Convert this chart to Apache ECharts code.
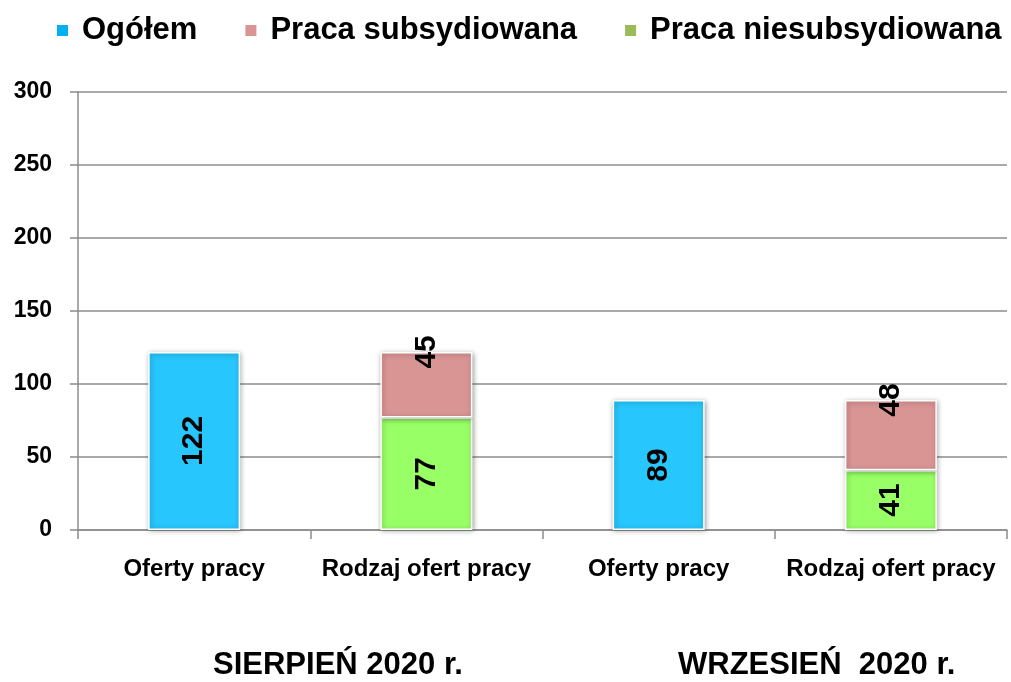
<!DOCTYPE html>
<html>
<head>
<meta charset="utf-8">
<script src="https://cdn.jsdelivr.net/npm/echarts@6/dist/echarts.min.js"></script>
<style>
  html, body { margin: 0; padding: 0; background: #fff; }
  #chart { width: 1011px; height: 682px; }
</style>
</head>
<body>
<div id="chart"></div>
<script>
// kategorie osi X
const categories = ["Oferty pracy", "Rodzaj ofert pracy", "Oferty pracy", "Rodzaj ofert pracy"];
// miesiące pod osią
const months = ["SIERPIEŃ 2020 r.", "WRZESIEŃ  2020 r."];
// wartości serii
const ogolem = [122, "-", 89, "-"];
const niesubsydiowana = ["-", 77, "-", 41];
const subsydiowana = ["-", 45, "-", 48];

const bodyFont = "'Liberation Sans', Arial, sans-serif";

const myChart = echarts.init(document.getElementById("chart"));

// wspólny styl słupka
function barItem(color) {
  return {
    color: color,
    borderColor: "#fff",
    borderWidth: 1.5,
    shadowBlur: 5,
    shadowColor: "rgba(0,0,0,0.35)",
    shadowOffsetX: 1,
    shadowOffsetY: 1,
  };
}

const valueLabel = {
  show: true,
  rotate: 90,
  color: "#000",
  fontFamily: bodyFont,
  fontWeight: "bold",
  fontSize: 30,
};

const option = {
  animation: false,
  backgroundColor: "#fff",
  legend: {
    top: 15,
    left: 55,
    width: 956,
    padding: 0,
    itemWidth: 13,
    itemHeight: 13,
    itemGap: 46,
    icon: "rect",
    textStyle: {
      fontFamily: bodyFont,
      fontWeight: "bold",
      fontSize: 31,
      color: "#000",
      padding: [0, 0, 0, 8],
    },
    data: [
      { name: "Ogółem", itemStyle: { color: "#00B0F0" } },
      { name: "Praca subsydiowana", itemStyle: { color: "#D99594" } },
      { name: "Praca niesubsydiowana", itemStyle: { color: "#9BBB59" } },
    ],
  },
  grid: {
    left: 78,
    right: 4,
    top: 92,
    bottom: 152,
  },
  xAxis: {
    type: "category",
    data: categories,
    axisLine: { lineStyle: { color: "#8c8c8c", width: 1.5 } },
    axisTick: { show: true, length: 9, lineStyle: { color: "#8c8c8c", width: 1.5 } },
    axisLabel: {
      interval: 0,
      margin: 27,
      fontFamily: bodyFont,
      fontWeight: "bold",
      fontSize: 24,
      color: "#000",
    },
  },
  yAxis: {
    type: "value",
    min: 0,
    max: 300,
    interval: 50,
    axisLine: { show: true, lineStyle: { color: "#8c8c8c", width: 1.5 } },
    axisTick: { show: true, length: 8, lineStyle: { color: "#8c8c8c", width: 1.5 } },
    splitLine: { lineStyle: { color: "#8c8c8c", width: 1.5 } },
    axisLabel: {
      margin: 26,
      fontFamily: bodyFont,
      fontWeight: "bold",
      fontSize: 23,
      color: "#000",
    },
  },
  series: [
    {
      name: "Ogółem",
      type: "bar",
      data: ogolem,
      barWidth: 92,
      barGap: "-100%",
      itemStyle: barItem("#27C6FD"),
      label: Object.assign({}, valueLabel, { position: "inside" }),
      z: 2,
    },
    {
      name: "Praca niesubsydiowana",
      type: "bar",
      stack: "rodzaj",
      data: niesubsydiowana,
      barWidth: 92,
      barGap: "-100%",
      itemStyle: barItem("#99FF66"),
      label: Object.assign({}, valueLabel, { position: "inside" }),
      z: 2,
    },
    {
      name: "Praca subsydiowana",
      type: "bar",
      stack: "rodzaj",
      data: subsydiowana,
      barWidth: 92,
      barGap: "-100%",
      itemStyle: barItem("#D99594"),
      label: Object.assign({}, valueLabel, {
        position: ["50%", 0],
        align: "center",
        verticalAlign: "middle",
      }),
      z: 2,
    },
  ],
  graphic: [
    {
      type: "text",
      left: 213,
      top: 650,
      style: {
        text: months[0],
        fontFamily: bodyFont,
        fontWeight: "bold",
        fontSize: 31,
        fill: "#000",
      },
    },
    {
      type: "text",
      left: 678,
      top: 650,
      style: {
        text: months[1],
        fontFamily: bodyFont,
        fontWeight: "bold",
        fontSize: 31,
        fill: "#000",
      },
    },
  ],
};

myChart.setOption(option);
</script>
</body>
</html>
